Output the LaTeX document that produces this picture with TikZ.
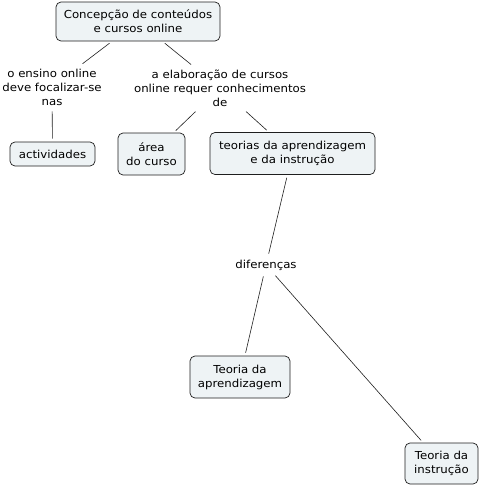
\documentclass[tikz,border=0pt]{standalone}
\usepackage{fontspec}
\setmainfont{DejaVu Sans}[FakeStretch=1.07]
\definecolor{conceptfill}{HTML}{EEF3F5}
\definecolor{conceptedge}{HTML}{1E1E1E}

\begin{document}
\begin{tikzpicture}[
  x=1pt,
  y=-1pt,
  font=\fontsize{11}{14}\selectfont,
  concept/.style={draw=conceptedge,fill=conceptfill,rounded corners=5pt,
    line width=0.7pt,align=center,inner xsep=4pt,inner ysep=4pt},
  phrase/.style={align=center,inner sep=3pt},
  link/.style={draw=conceptedge,line width=0.6pt,shorten <=3pt,shorten >=3pt}
]
  \useasboundingbox (0,0) rectangle (480,488);

  % Concepts.
  \node[concept,minimum width=164pt,minimum height=39pt] (root) at (138,21.5)
    {Concepção de conteúdos\\e cursos online};
  \node[concept,minimum width=85pt,minimum height=24pt] (activ) at (52.5,154)
    {actividades};
  \node[concept,minimum width=67pt,minimum height=42pt] (area) at (151.5,154)
    {área\\do curso};
  \node[concept,minimum width=165pt,minimum height=42pt] (teorias) at (292.5,153.5)
    {teorias da aprendizagem\\e da instrução};
  \node[concept,minimum width=100pt,minimum height=42pt] (tapr) at (240,377)
    {Teoria da\\aprendizagem};
  \node[concept,minimum width=73pt,minimum height=41pt] (tins) at (441.5,463.5)
    {Teoria da\\instrução};

  % Linking phrases.
  \node[phrase] (ensino) at (52,87) {o ensino online\\deve focalizar-se\\nas};
  \node[phrase] (elab) at (220,88) {a elaboração de cursos\\online requer conhecimentos\\de};
  \node[phrase] (dif) at (266,265) {diferenças};

  % Connections.
  \draw[link] (root) -- (ensino);
  \draw[link] (root) -- (elab);
  \draw[link] (ensino) -- (activ);
  \draw[link] (elab) -- (area);
  \draw[link] (elab) -- (teorias);
  \draw[link] (teorias) -- (dif);
  \draw[link] (dif) -- (tapr);
  \draw[link] (dif) -- (tins);
\end{tikzpicture}
\end{document}
